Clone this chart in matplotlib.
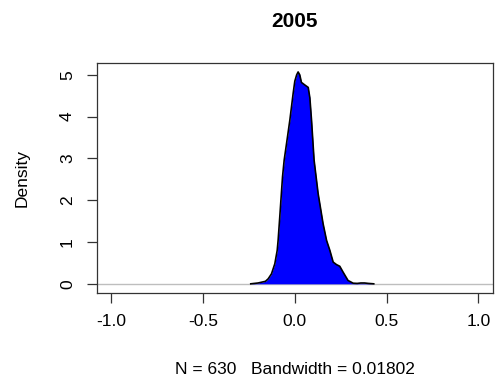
import numpy as np
import matplotlib.pyplot as plt

plt.rcParams['font.family'] = ['Liberation Sans', 'DejaVu Sans']

# density curve
dens_x = [-0.24, -0.20, -0.16, -0.145, -0.127, -0.109, -0.096, -0.091, -0.082, -0.067,
          -0.058, -0.045, -0.027, -0.009, 0.0, 0.010, 0.018, 0.027, 0.036, 0.054,
          0.073, 0.082, 0.091, 0.105, 0.127, 0.154, 0.173, 0.191, 0.209, 0.227,
          0.245, 0.263, 0.29, 0.318, 0.34, 0.36, 0.38, 0.40, 0.43]
dens_y = [0.0, 0.02, 0.06, 0.12, 0.24, 0.48, 0.80, 1.04, 1.60, 2.56,
          2.96, 3.36, 3.92, 4.56, 4.85, 5.00, 5.07, 5.00, 4.82, 4.76,
          4.70, 4.45, 3.92, 2.96, 2.16, 1.44, 1.04, 0.80, 0.52, 0.46,
          0.42, 0.28, 0.08, 0.015, 0.01, 0.02, 0.02, 0.01, 0.0]
xticks = [-1.0, -0.5, 0.0, 0.5, 1.0]
yticks = [0, 1, 2, 3, 4, 5]
title = '2005'
xlabel = 'N = 630   Bandwidth = 0.01802'

fig = plt.figure(figsize=(4.98, 3.85), dpi=100)
ax = fig.add_axes([0.194, 0.240, 0.796, 0.597])

ax.axhline(0, color='#bebebe', lw=1, zorder=1)
ax.fill_between(dens_x, dens_y, 0, color='blue', lw=0, zorder=2)
ax.plot(dens_x, dens_y, color='black', lw=1.2, zorder=3)

ax.set_xlim(-1.08, 1.08)
ax.set_ylim(-0.21, 5.29)
ax.set_xticks(xticks)
ax.set_xticklabels(['%.1f' % t for t in xticks])
ax.set_yticks(yticks)
ax.set_yticklabels([str(t) for t in yticks], rotation=90, va='center')
ax.tick_params(direction='out', length=7.5, width=0.9, color='#333333',
               labelsize=12.5, pad=8)

for s in ax.spines.values():
    s.set_color('#333333')
    s.set_linewidth(0.9)

ax.set_title(title, fontsize=15, fontweight='bold', pad=26)
ax.set_xlabel(xlabel, fontsize=12.5, labelpad=24)
ax.set_ylabel('Density', fontsize=12.5, labelpad=22)

fig.savefig('out.png', dpi=100)
